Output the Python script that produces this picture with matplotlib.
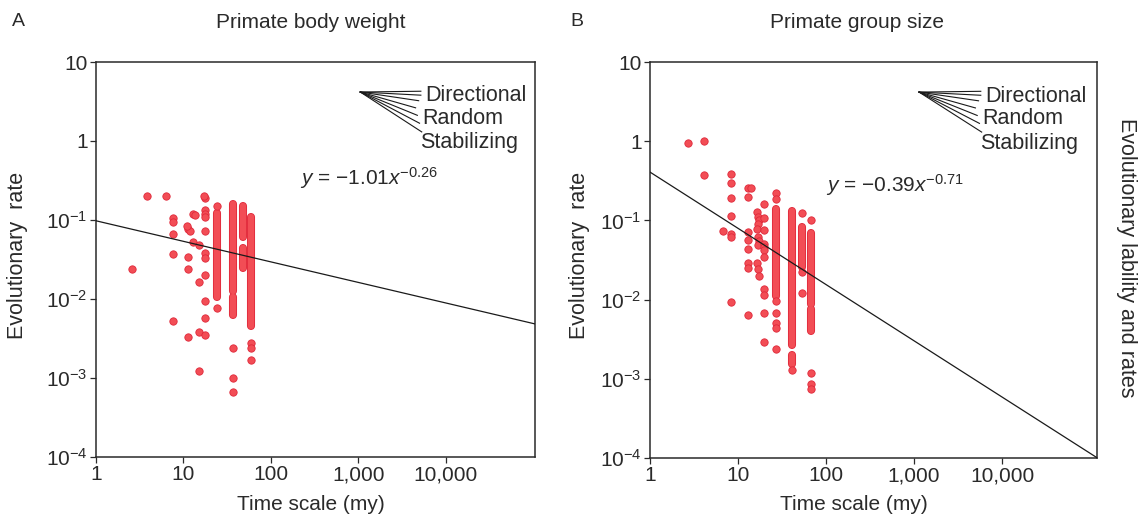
import numpy as np
import matplotlib
matplotlib.use("Agg")
import matplotlib.pyplot as plt
from matplotlib.ticker import FixedLocator, FixedFormatter

plt.rcParams['font.family'] = ['Liberation Sans', 'DejaVu Sans']
plt.rcParams['mathtext.fontset'] = 'custom'
plt.rcParams['mathtext.rm'] = 'Liberation Sans'
plt.rcParams['mathtext.it'] = 'Liberation Sans:italic'
plt.rcParams['mathtext.default'] = 'regular'

# ---- data ----
# panel A: primate body weight (single points)
a_x = [2.56, 3.8, 6.4, 7.6, 7.6, 7.6, 7.6, 7.6,
       11.4, 12.0, 11.0, 11.4, 11.4, 11.4,
       12.9, 13.5, 12.9,
       15.1, 15.1, 15.1, 15.1,
       17.6, 17.2, 17.6, 17.6, 17.6, 17.6, 17.6, 17.6, 17.6, 17.6, 17.6, 17.6,
       24, 24, 36.6, 36.6, 36.6, 59, 59, 59]
a_y = [0.024, 0.20, 0.20, 0.105, 0.095, 0.066, 0.037, 0.0052,
       0.078, 0.072, 0.085, 0.034, 0.024, 0.0033,
       0.118, 0.115, 0.053,
       0.048, 0.0165, 0.0038, 0.00123,
       0.19, 0.20, 0.135, 0.12, 0.11, 0.072, 0.038, 0.033, 0.020, 0.0093, 0.0058, 0.0035,
       0.15, 0.0076, 0.0024, 0.0010, 0.00067, 0.0028, 0.0024, 0.0017]
# panel A: dense columns of overlapping points (x, lowest, highest)
a_col_x = [24, 36.6, 36.6, 47.5, 47.5, 59]
a_col_lo = [0.0105, 0.0127, 0.0063, 0.061, 0.025, 0.0045]
a_col_hi = [0.122, 0.16, 0.0107, 0.15, 0.044, 0.11]

# panel B: primate group size (single points)
b_x = [2.7, 4.1, 4.1, 6.8,
       8.3, 8.3, 8.3, 8.3, 8.3, 8.3, 8.3,
       13, 14, 13, 13, 13, 13, 13, 13, 13,
       16.5, 17, 17.5, 17, 16.5, 17, 17.5, 17, 16.5, 17, 17.5,
       19.7, 19.7, 19.7, 19.7, 19.7, 19.7, 19.7, 19.7, 19.7, 19.7, 19.7,
       26.8, 26.8, 26.8, 26.8, 26.8, 26.8, 26.8,
       41, 54, 54, 54, 67.5, 67.5, 67.5, 67.5]
b_y = [0.95, 1.0, 0.37, 0.074,
       0.39, 0.30, 0.19, 0.115, 0.068, 0.062, 0.0094,
       0.26, 0.26, 0.20, 0.072, 0.056, 0.044, 0.029, 0.025, 0.0063,
       0.126, 0.11, 0.10, 0.09, 0.079, 0.061, 0.055, 0.049, 0.029, 0.024, 0.020,
       0.16, 0.107, 0.076, 0.051, 0.046, 0.042, 0.035, 0.0135, 0.0115, 0.0068, 0.0029,
       0.22, 0.185, 0.0095, 0.0068, 0.0051, 0.0044, 0.0024,
       0.0013, 0.124, 0.022, 0.012, 0.10, 0.0012, 0.00087, 0.00074]
b_col_x = [26.8, 41, 41, 54, 67.5, 67.5]
b_col_lo = [0.0112, 0.0027, 0.00155, 0.026, 0.0087, 0.004]
b_col_hi = [0.138, 0.13, 0.002, 0.083, 0.069, 0.0076]

# fitted lines: log10(y) = intercept + slope * log10(x)
fit_intercept = [-1.01, -0.39]
fit_slope = [-0.26, -0.71]
eq_labels = [r'$\mathit{y}$ = −1.01$\mathit{x}^{-0.26}$',
             r'$\mathit{y}$ = −0.39$\mathit{x}^{-0.71}$']

titles = ['Primate body weight', 'Primate group size']
panel_letters = ['A', 'B']
x_ticks = [1, 10, 100, 1000, 10000]
x_ticklabels = ['1', '10', '100', '1,000', '10,000']
y_ticks = [1e-4, 1e-3, 1e-2, 1e-1, 1, 10]
y_ticklabels = ['10$^{−4}$', '10$^{−3}$', '10$^{−2}$', '10$^{−1}$', '1', '10']
legend_words = ['Directional', 'Random', 'Stabilizing']
x_max = [1.05e5, 1.2e5]

dot_face = '#f24d55'
dot_edge = '#e0283a'
ink = '#2a2a2a'

fig = plt.figure(figsize=(11.4, 5.2), dpi=100)
ax_a = fig.add_axes([96 / 1140, 1 - 457 / 520, 439 / 1140, 395 / 520])
ax_b = fig.add_axes([650 / 1140, 1 - 458 / 520, 447 / 1140, 396 / 520])

panels = [(ax_a, a_x, a_y, a_col_x, a_col_lo, a_col_hi),
          (ax_b, b_x, b_y, b_col_x, b_col_lo, b_col_hi)]

for i, (ax, px, py, cx, clo, chi) in enumerate(panels):
    ax.set_xscale('log')
    ax.set_yscale('log')
    ax.set_xlim(1, x_max[i])
    ax.set_ylim(1e-4, 10)

    # dense columns drawn as round-capped strokes the width of one dot
    ax.vlines(cx, clo, chi, colors=dot_edge, linewidth=5.8, capstyle='round', zorder=3)
    ax.vlines(cx, clo, chi, colors=dot_face, linewidth=4.6, capstyle='round', zorder=3)
    ax.scatter(px, py, s=28, c=dot_face, edgecolors=dot_edge, linewidths=0.6, zorder=4)

    xx = np.array([1, x_max[i]])
    yy = 10 ** (fit_intercept[i] + fit_slope[i] * np.log10(xx))
    ax.plot(xx, yy, color='#1a1a1a', lw=0.9, zorder=5)

    ax.xaxis.set_major_locator(FixedLocator(x_ticks))
    ax.xaxis.set_major_formatter(FixedFormatter(x_ticklabels))
    ax.yaxis.set_major_locator(FixedLocator(y_ticks))
    ax.yaxis.set_major_formatter(FixedFormatter(y_ticklabels))
    ax.minorticks_off()
    ax.tick_params(direction='out', length=4, width=0.9, color=ink,
                   labelsize=15, labelcolor=ink, pad=2)
    for sp in ax.spines.values():
        sp.set_color(ink)
        sp.set_linewidth(1.1)

    # fan-shaped key
    apex = (0.602, 0.924)
    end_x = [0.740, 0.740, 0.735, 0.728, 0.732, 0.737, 0.742]
    end_y = [0.926, 0.916, 0.902, 0.884, 0.865, 0.845, 0.823]
    for ex, ey in zip(end_x, end_y):
        ax.plot([apex[0], ex], [apex[1], ey], transform=ax.transAxes,
                color='#1a1a1a', lw=0.8, clip_on=False)
    for j, (w, ty) in enumerate(zip(legend_words, [0.914, 0.857, 0.795])):
        ax.text(0.750 - 0.006 * j, ty, w, transform=ax.transAxes,
                fontsize=15.5, color=ink, ha='left', va='center')

    eq_pos = [(0.465, 0.706), (0.394, 0.690)][i]
    ax.text(eq_pos[0], eq_pos[1], eq_labels[i], transform=ax.transAxes,
            fontsize=15, color=ink, ha='left', va='center')

fig.text(12 / 1140, 1 - 22 / 520, panel_letters[0], fontsize=14, color=ink, ha='left', va='center')
fig.text(570 / 1140, 1 - 22 / 520, panel_letters[1], fontsize=14, color=ink, ha='left', va='center')
fig.text(311 / 1140, 1 - 22 / 520, titles[0], fontsize=15, color=ink, ha='center', va='center')
fig.text(857 / 1140, 1 - 22 / 520, titles[1], fontsize=15, color=ink, ha='center', va='center')
fig.text(311 / 1140, 1 - 505 / 520, 'Time scale (my)', fontsize=15, color=ink, ha='center', va='center')
fig.text(854 / 1140, 1 - 505 / 520, 'Time scale (my)', fontsize=15, color=ink, ha='center', va='center')
fig.text(18 / 1140, 1 - 255 / 520, 'Evolutionary  rate', fontsize=15.5, color=ink,
         rotation=90, ha='center', va='center')
fig.text(580 / 1140, 1 - 255 / 520, 'Evolutionary  rate', fontsize=15.5, color=ink,
         rotation=90, ha='center', va='center')
fig.text(1127 / 1140, 1 - 258 / 520, 'Evolutionary lability and rates', fontsize=15.5, color=ink,
         rotation=-90, ha='center', va='center')

fig.savefig('out.png', dpi=100)
